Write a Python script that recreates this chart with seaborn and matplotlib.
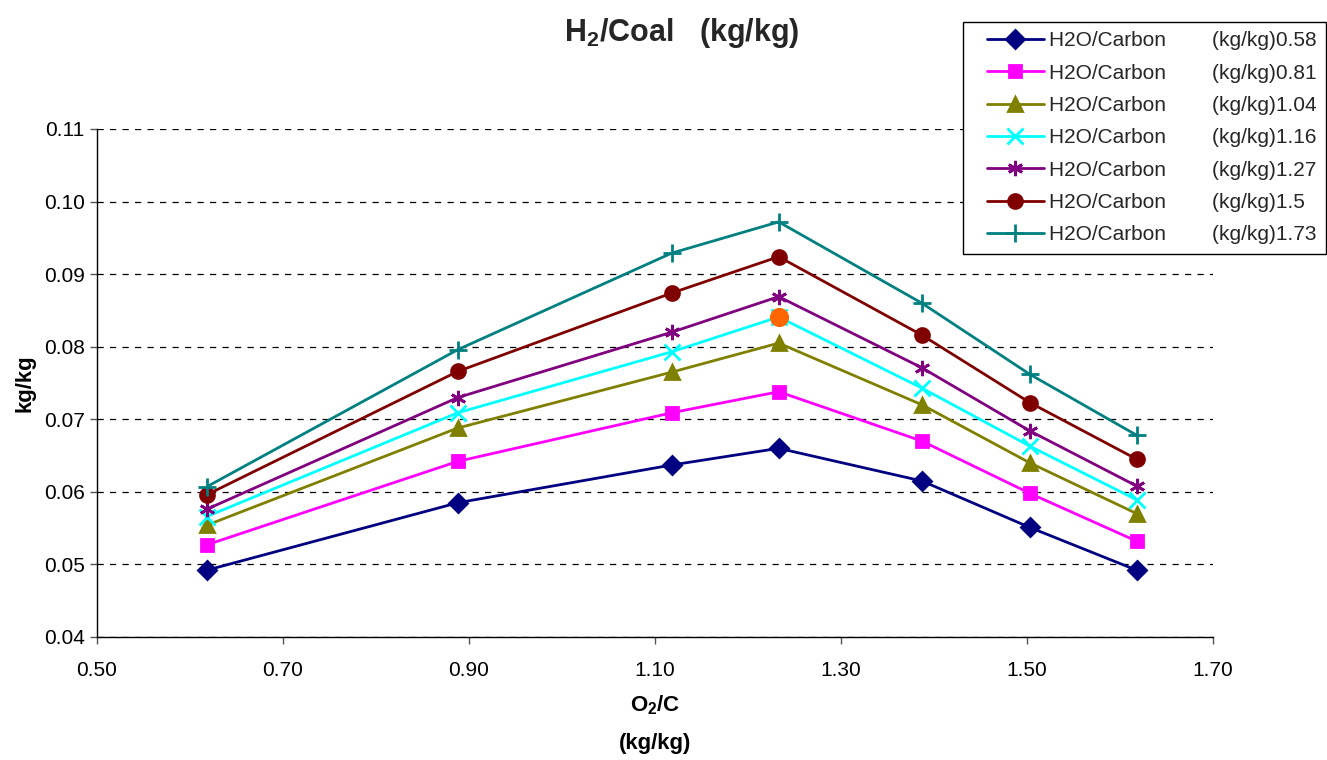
## H2/Coal vs O2/C

import numpy as np
import pandas as pd
import seaborn as sns
import matplotlib.pyplot as plt
from matplotlib.lines import Line2D
from matplotlib.legend_handler import HandlerLine2D
from matplotlib.ticker import FormatStrFormatter

## Dados
o2c = [0.618, 0.888, 1.118, 1.233, 1.387, 1.503, 1.618]

h2o_058 = [0.0492, 0.0585, 0.0637, 0.0660, 0.0615, 0.0551, 0.0492]
h2o_081 = [0.0527, 0.0642, 0.0709, 0.0738, 0.0670, 0.0598, 0.0532]
h2o_104 = [0.0554, 0.0688, 0.0765, 0.0805, 0.0720, 0.0640, 0.0570]
h2o_116 = [0.0566, 0.0709, 0.0793, 0.0841, 0.0743, 0.0663, 0.0589]
h2o_127 = [0.0576, 0.0730, 0.0820, 0.0869, 0.0771, 0.0684, 0.0608]
h2o_150 = [0.0596, 0.0766, 0.0874, 0.0924, 0.0816, 0.0723, 0.0645]
h2o_173 = [0.0607, 0.0796, 0.0929, 0.0972, 0.0860, 0.0762, 0.0678]

series_names = ['0.58', '0.81', '1.04', '1.16', '1.27', '1.5', '1.73']
series_vals = [h2o_058, h2o_081, h2o_104, h2o_116, h2o_127, h2o_150, h2o_173]

x_ticks = [0.50, 0.70, 0.90, 1.10, 1.30, 1.50, 1.70]
y_ticks = [0.04, 0.05, 0.06, 0.07, 0.08, 0.09, 0.10, 0.11]

# ponto destacado (laranja)
destaque_idx = 3

## Estilo
sns.set_style('ticks')
plt.rcParams['font.family'] = ['Liberation Sans', 'DejaVu Sans']
plt.rcParams['mathtext.fontset'] = 'custom'
plt.rcParams['mathtext.rm'] = 'Liberation Sans'
plt.rcParams['mathtext.bf'] = 'Liberation Sans:bold'

cores = ['#000080', '#FF00FF', '#808000', '#00FFFF',
         '#800080', '#800000', '#008080']
marcadores = ['D', 's', '^', 'x', (6, 2, 0), 'o', '+']
tamanhos = [9, 9, 10, 11, 11, 10, 13]

fig = plt.figure(figsize = (13.27, 7.60), dpi = 100)
ax = fig.add_axes([97 / 1327, 1 - 637 / 760,
                   (1213 - 97) / 1327, (637 - 129) / 760])

for nome, vals, cor, mk, ms in zip(series_names, series_vals,
                                   cores, marcadores, tamanhos):
    df = pd.DataFrame({'x': o2c, 'y': vals})
    sns.lineplot(data = df, x = 'x', y = 'y', ax = ax, color = cor,
                 marker = mk, markersize = ms, linewidth = 2,
                 markeredgecolor = cor, markeredgewidth = 2,
                 label = 'H2O/Carbon        (kg/kg)' + nome, zorder = 3)

# ponto laranja
sns.scatterplot(x = [o2c[destaque_idx]], y = [h2o_116[destaque_idx]],
                ax = ax, color = '#FF6600', s = 190, linewidth = 0,
                zorder = 5, legend = False)

## Eixos
ax.set_xlim(0.5, 1.7)
ax.set_ylim(0.04, 0.11)
ax.set_xticks(x_ticks)
ax.set_yticks(y_ticks)
ax.xaxis.set_major_formatter(FormatStrFormatter('%.2f'))
ax.yaxis.set_major_formatter(FormatStrFormatter('%.2f'))
ax.tick_params(labelsize = 15, length = 5, width = 1, color = '#555555',
               labelcolor = 'black', direction = 'out')
ax.tick_params(axis = 'x', pad = 12)
ax.tick_params(axis = 'y', pad = 4)

ax.yaxis.grid(True, color = 'black', linestyle = (0, (5, 5)),
              linewidth = 0.9)
ax.set_axisbelow(True)
sns.despine(ax = ax)
for lado in ['left', 'bottom']:
    ax.spines[lado].set_color('black')
    ax.spines[lado].set_linewidth(1)

ax.set_xlabel(r'$\mathbf{O_2}$/C' + '\n(kg/kg)', fontsize = 16,
              fontweight = 'bold', linespacing = 2.0, labelpad = 10,
              color = 'black')
ax.set_ylabel('kg/kg', fontsize = 16, fontweight = 'bold', labelpad = 6,
              color = 'black')

# Titulo
fig.text(682 / 1327, 1 - 33 / 760, r'$\mathbf{H_2}$/Coal   (kg/kg)',
         fontsize = 22, fontweight = 'bold', ha = 'center', va = 'center')

## Legenda
leg = ax.legend(loc = 'upper right',
                bbox_to_anchor = (1326 / 1327, 1 - 22 / 760),
                bbox_transform = fig.transFigure, borderaxespad = 0,
                fontsize = 15, frameon = True, fancybox = False,
                edgecolor = 'black', handlelength = 3.45,
                handler_map = {Line2D: HandlerLine2D(xpad = 0.72)},
                handletextpad = 0.25, labelspacing = 0.64,
                borderpad = 0.45, framealpha = 1)
leg.get_frame().set_linewidth(1)

plt.savefig('out.png', dpi = 100)
